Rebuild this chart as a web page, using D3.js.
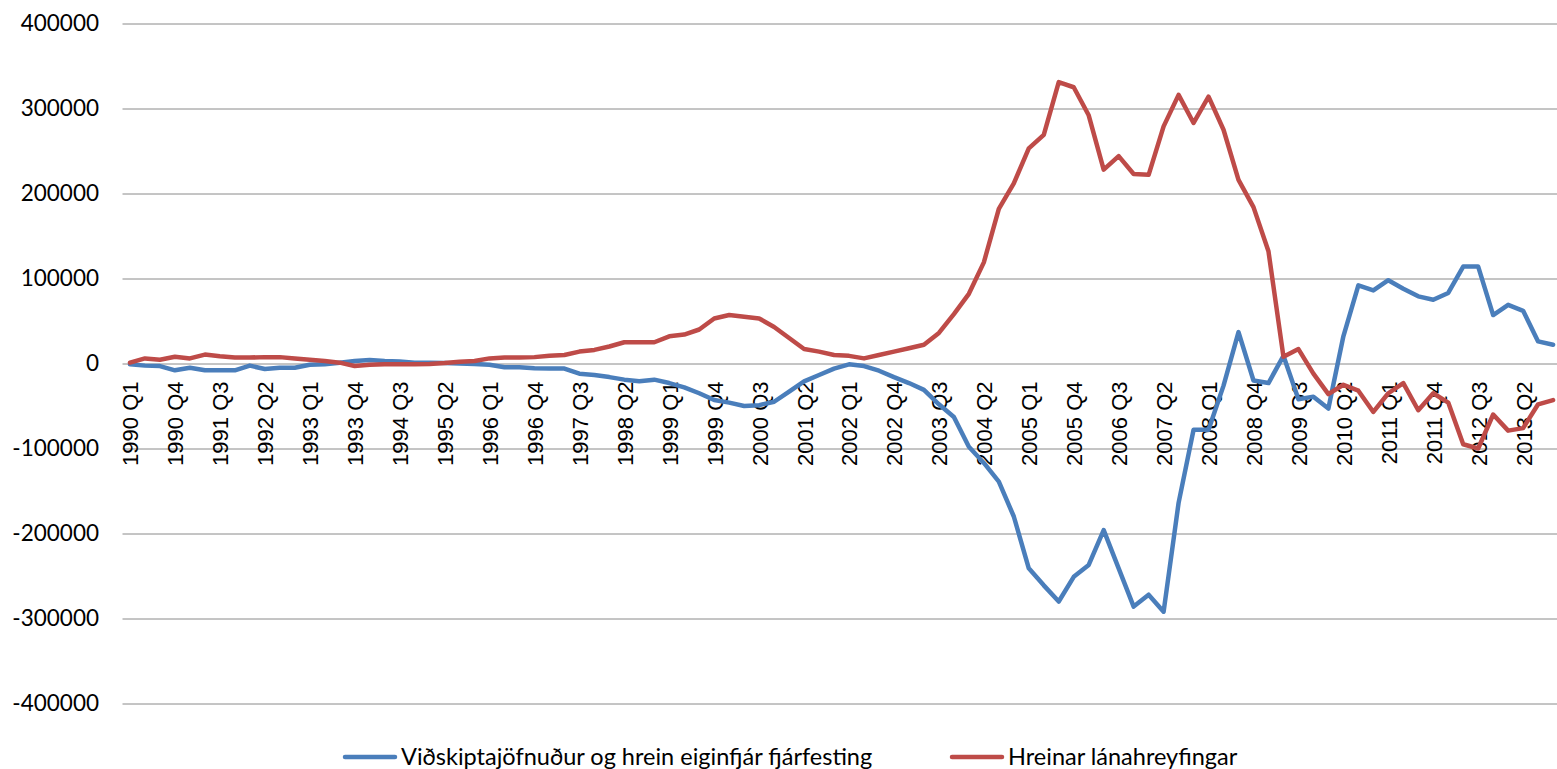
<!DOCTYPE html>
<html>
<head>
<meta charset="utf-8">
<script src="https://cdn.jsdelivr.net/npm/d3@7"></script>
<style>
  html, body { margin: 0; padding: 0; background: #fff; }
  svg { display: block; }
</style>
</head>
<body>
<svg id="chart" width="1557" height="769"></svg>
<script>
// ---- data ----
const years = [1990,1991,1992,1993,1994,1995,1996,1997,1998,1999,2000,2001,2002,2003,2004,2005,2006,2007,2008,2009,2010,2011,2012,2013];
const quarters = ["Q1","Q2","Q3","Q4"];
const categories = years.flatMap(y => quarters.map(q => y + " " + q));

const seriesNames = ["Viðskiptajöfnuður og hrein eiginfjár fjárfesting", "Hreinar lánahreyfingar"];

const currentAccountEquity = [
  -1000, -2500, -3000, -8000, -5000, -8000, -8000, -8000,
  -2500, -6500, -5000, -5000, -1500, -1000, 1000, 3000,
  4000, 3000, 2500, 1000, 1000, 500, 0, -500,
  -1500, -4500, -4500, -5500, -6000, -6000, -12000, -13500,
  -16000, -19000, -21000, -19000, -23000, -28000, -35000, -43000,
  -46000, -50000, -49000, -45000, -33000, -21000, -13500, -6000,
  -1000, -3000, -8500, -16000, -23000, -31000, -48000, -63000,
  -98000, -117000, -139000, -180000, -241000, -261000, -280000, -251000,
  -237000, -196000, -241000, -286000, -272000, -292000, -164000, -78000,
  -78000, -26000, 37000, -20000, -23000, 9000, -42000, -39000,
  -53000, 32000, 92000, 86000, 98000, 88000, 79000, 75000,
  83000, 114000, 114000, 57000, 69000, 62000, 26000, 22000
];

const netLoanFlows = [
  1000, 6000, 4500, 8000, 6000, 10500, 8500, 7000,
  7000, 7500, 7500, 6000, 4500, 3000, 1000, -3000,
  -1500, -1000, -1000, -1000, -500, 500, 2000, 3000,
  6000, 7000, 7000, 7500, 9000, 10000, 14000, 16000,
  20000, 25000, 25000, 25000, 32000, 34000, 40000, 53000,
  57000, 55000, 53000, 43000, 30000, 17000, 14000, 10000,
  9000, 6000, 10000, 14000, 18000, 22000, 36000, 58000,
  82000, 119000, 182000, 212000, 253000, 269000, 331000, 325000,
  292000, 228000, 244000, 223000, 222000, 279000, 316000, 283000,
  314000, 275000, 216000, 184000, 132000, 8000, 17000, -12000,
  -36000, -25000, -32000, -57000, -35000, -23000, -55000, -35000,
  -46000, -95000, -100000, -60000, -79000, -76000, -48000, -43000
];

const yTicks = [-400000, -300000, -200000, -100000, 0, 100000, 200000, 300000, 400000];
const tickLabels = categories.filter((d, i) => i % 3 === 0);
const colors = ["#4a7ebb", "#be4b48"];

// ---- layout ----
const W = 1557, H = 769;
const plotLeft = 122.5, step = 14.98;
const plotRight = plotLeft + step * categories.length;
const yTop = 23.5, yBottom = 703.5;

const svg = d3.select("#chart");

const x = d3.scalePoint()
  .domain(categories)
  .range([plotLeft + step / 2, plotRight - step / 2]);

const y = d3.scaleLinear()
  .domain([-400000, 400000])
  .range([yBottom, yTop]);

// y axis with gridlines
const yAxis = svg.append("g")
  .attr("transform", `translate(${plotLeft},0)`)
  .call(d3.axisLeft(y).tickValues(yTicks).tickFormat(d => String(d))
    .tickSize(-(W - plotLeft)).tickPadding(23.5));
yAxis.select(".domain").remove();
yAxis.selectAll(".tick line").attr("stroke", "#8a8a8a").attr("stroke-width", 1);
yAxis.selectAll(".tick text")
  .attr("font-family", "Lato, 'Open Sans', sans-serif")
  .attr("font-size", 22.5)
  .attr("fill", "#000");

// x axis labels at zero line
const xAxis = svg.append("g")
  .attr("transform", `translate(0,${y(0)})`)
  .call(d3.axisBottom(x).tickValues(tickLabels).tickSize(0).tickPadding(0));
xAxis.select(".domain").remove();
xAxis.selectAll(".tick text")
  .attr("font-family", "'Liberation Sans', Arial, sans-serif")
  .attr("font-size", 22)
  .attr("fill", "#000")
  .attr("text-anchor", "end")
  .attr("transform", "rotate(-90)")
  .attr("x", -18)
  .attr("y", 0)
  .attr("dy", "0.36em");

// lines
const line = d3.line()
  .x((d, i) => x(categories[i]))
  .y(d => y(d));

[currentAccountEquity, netLoanFlows].forEach((s, k) => {
  svg.append("path")
    .datum(s)
    .attr("fill", "none")
    .attr("stroke", colors[k])
    .attr("stroke-width", 4.5)
    .attr("stroke-linejoin", "round")
    .attr("stroke-linecap", "round")
    .attr("d", line);
});

// legend
const legendY = 757;
const legendItems = [
  { x: 345, name: seriesNames[0], color: colors[0] },
  { x: 952, name: seriesNames[1], color: colors[1] }
];
const lg = svg.append("g");
legendItems.forEach(it => {
  lg.append("line")
    .attr("x1", it.x).attr("x2", it.x + 50)
    .attr("y1", legendY).attr("y2", legendY)
    .attr("stroke", it.color).attr("stroke-width", 4.5)
    .attr("stroke-linecap", "round");
  lg.append("text")
    .attr("x", it.x + 56).attr("y", legendY)
    .attr("dy", "0.35em")
    .attr("font-family", "Lato, 'Open Sans', sans-serif")
    .attr("font-size", 23.5)
    .attr("fill", "#000")
    .text(it.name);
});
</script>
</body>
</html>
